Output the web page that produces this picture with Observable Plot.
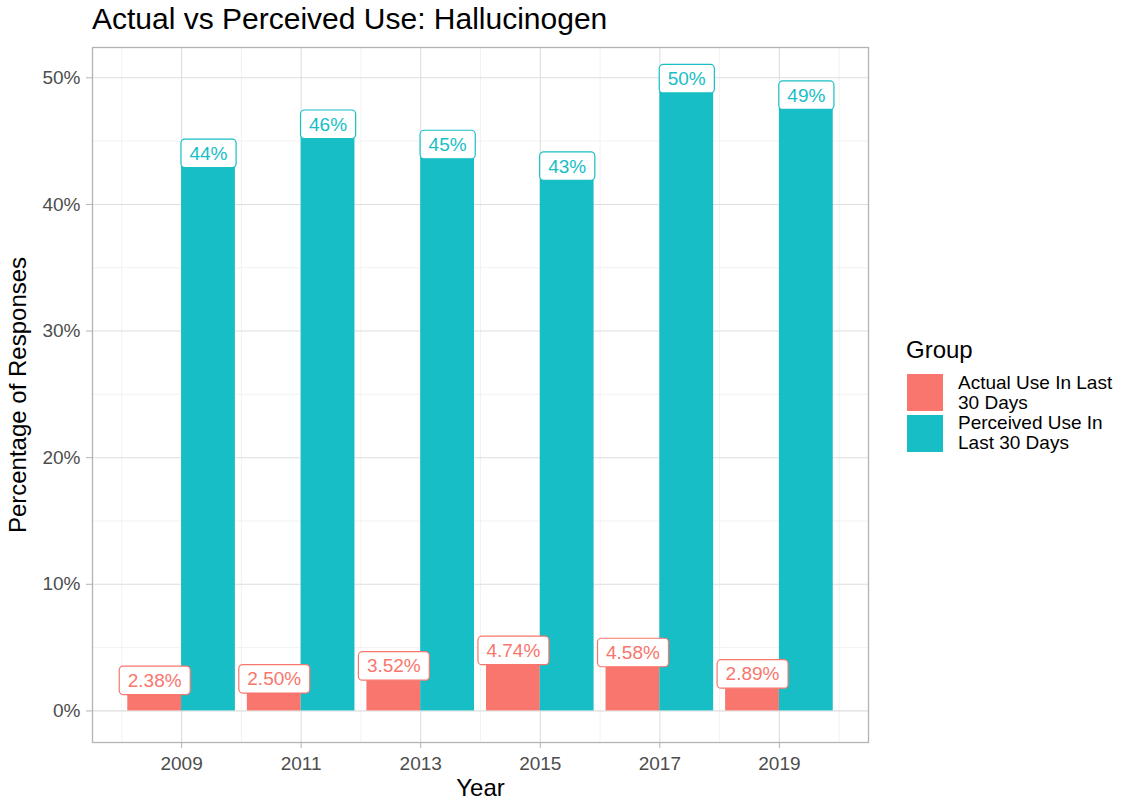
<!DOCTYPE html>
<html>
<head>
<meta charset="utf-8">
<script src="https://cdn.jsdelivr.net/npm/d3@7"></script>
<script src="https://cdn.jsdelivr.net/npm/@observablehq/plot@0.6"></script>
<style>
  body { margin: 0; background: #fff; font-family: "Liberation Sans", Arial, sans-serif; }
  #wrap { position: relative; width: 1128px; height: 803px; overflow: hidden; }
  #title { position: absolute; left: 92px; top: -1px; font-size: 30px; line-height: 40px; color: #000; white-space: nowrap; }
  #chart { position: absolute; left: 0; top: 40px; }
  .lg-title { position: absolute; left: 906px; top: 338px; font-size: 24px; line-height: 24px; color: #000; }
  .lg-sw { position: absolute; left: 907px; width: 36px; height: 37px; }
  .lg-lab { position: absolute; left: 958px; font-size: 19px; line-height: 20.3px; color: #000; white-space: nowrap; }
</style>
</head>
<body>
<div id="wrap">
  <div id="title">Actual vs Perceived Use: Hallucinogen</div>
  <div id="chart"></div>
  <div id="legend"></div>
</div>
<script>
// ---- data ----
const years = [2009, 2011, 2013, 2015, 2017, 2019];
const actualUse = [2.38, 2.50, 3.52, 4.74, 4.58, 2.89];
const perceivedUse = [44.0, 46.3, 44.7, 43.0, 49.9, 48.6];
const groups = ["Actual Use In Last 30 Days", "Perceived Use In Last 30 Days"];
const groupLines = [["Actual Use In Last", "30 Days"], ["Perceived Use In", "Last 30 Days"]];
const groupColors = ["#F8766D", "#17BEC5"];
const yTicks = [0, 10, 20, 30, 40, 50];
const yMinor = [5, 15, 25, 35, 45];
const xMinor = [2008, 2010, 2012, 2014, 2016, 2018, 2020];

// ---- table ----
const barW = 0.9;
const rows = [];
years.forEach((yr, i) => {
  rows.push({year: yr, group: groups[0], value: actualUse[i], x1: yr - barW, x2: yr, xc: yr - barW / 2,
             label: actualUse[i].toFixed(2) + "%"});
  rows.push({year: yr, group: groups[1], value: perceivedUse[i], x1: yr, x2: yr + barW, xc: yr + barW / 2,
             label: Math.round(perceivedUse[i]) + "%"});
});

const xLo = years[0] - barW, xHi = years[years.length - 1] + barW;
const xPad = (xHi - xLo) * 0.05;
const yMax = d3.max(rows, d => d.value);
const yPad = yMax * 0.05;

const chart = Plot.plot({
  width: 880,
  height: 763,
  marginLeft: 92,
  marginRight: 12,
  marginTop: 7,
  marginBottom: 61,
  style: {fontFamily: "'Liberation Sans', Arial, sans-serif", fontSize: "19px", background: "white", overflow: "visible"},
  x: {type: "linear", domain: [xLo - xPad, xHi + xPad]},
  y: {domain: [-yPad, yMax + yPad]},
  color: {domain: groups, range: groupColors},
  marks: [
    Plot.gridX(xMinor, {stroke: "#ededed", strokeOpacity: 1, strokeWidth: 0.7}),
    Plot.gridY(yMinor, {stroke: "#ededed", strokeOpacity: 1, strokeWidth: 0.7}),
    Plot.gridX(years, {stroke: "#dedede", strokeOpacity: 1, strokeWidth: 1.1}),
    Plot.gridY(yTicks, {stroke: "#dedede", strokeOpacity: 1, strokeWidth: 1.1}),
    Plot.rectY(rows, {x1: "x1", x2: "x2", y1: 0, y2: "value", fill: "group"}),
    Plot.frame({stroke: "#b3b3b3", strokeWidth: 1.3}),
    Plot.axisY(yTicks, {tickFormat: d => d + "%", tickSize: 6, tickPadding: 6, stroke: "#b3b3b3",
                        fill: "#4d4d4d", fontSize: 19, label: null}),
    Plot.axisX(years, {tickFormat: d => String(d), tickSize: 6, tickPadding: 8, stroke: "#b3b3b3",
                       fill: "#4d4d4d", fontSize: 19, label: null}),
    Plot.text(rows, {x: "xc", y: "value", text: "label", fill: "group", fontSize: 19,
                     lineAnchor: "middle"}),
    Plot.text(["Year"], {frameAnchor: "bottom", dy: 46, fontSize: 24, fill: "#000", lineAnchor: "middle",
                         textAnchor: "middle"}),
    Plot.text(["Percentage of Responses"], {frameAnchor: "left", dx: -74, rotate: -90, fontSize: 24,
                                            fill: "#000", lineAnchor: "middle", textAnchor: "middle"})
  ]
});

document.getElementById("chart").append(chart);

// label boxes (geom_label style) behind each bar label
const NS = "http://www.w3.org/2000/svg";
const labelSet = new Set(rows.map(d => d.label));
let labelGroup = null;
for (const g of chart.querySelectorAll("g")) {
  const ts = Array.from(g.children).filter(c => c.tagName === "text");
  if (ts.length === rows.length && ts.every(t => labelSet.has(t.textContent))) { labelGroup = g; break; }
}
if (labelGroup) {
  for (const t of Array.from(labelGroup.children).filter(c => c.tagName === "text")) {
    const b = t.getBBox();
    const col = t.getAttribute("fill") || labelGroup.getAttribute("fill");
    const r = document.createElementNS(NS, "rect");
    const padX = 8.5, h = 28.5;
    const cy = b.y + b.height / 2;
    r.setAttribute("x", b.x - padX);
    r.setAttribute("y", cy - h / 2);
    r.setAttribute("width", b.width + 2 * padX);
    r.setAttribute("height", h);
    r.setAttribute("rx", 4);
    r.setAttribute("fill", "white");
    r.setAttribute("stroke", col);
    r.setAttribute("stroke-width", 1.2);
    if (t.getAttribute("transform")) r.setAttribute("transform", t.getAttribute("transform"));
    labelGroup.insertBefore(r, t);
  }
}

// legend
const lg = document.getElementById("legend");
const lt = document.createElement("div");
lt.className = "lg-title";
lt.textContent = "Group";
lg.append(lt);
const swTops = [374, 415];
const labTops = [372.6, 413];
groups.forEach((g, i) => {
  const sw = document.createElement("div");
  sw.className = "lg-sw";
  sw.style.top = swTops[i] + "px";
  sw.style.background = groupColors[i];
  lg.append(sw);
  const lab = document.createElement("div");
  lab.className = "lg-lab";
  lab.style.top = labTops[i] + "px";
  lab.innerHTML = groupLines[i].join("<br>");
  lg.append(lab);
});
</script>
</body>
</html>
